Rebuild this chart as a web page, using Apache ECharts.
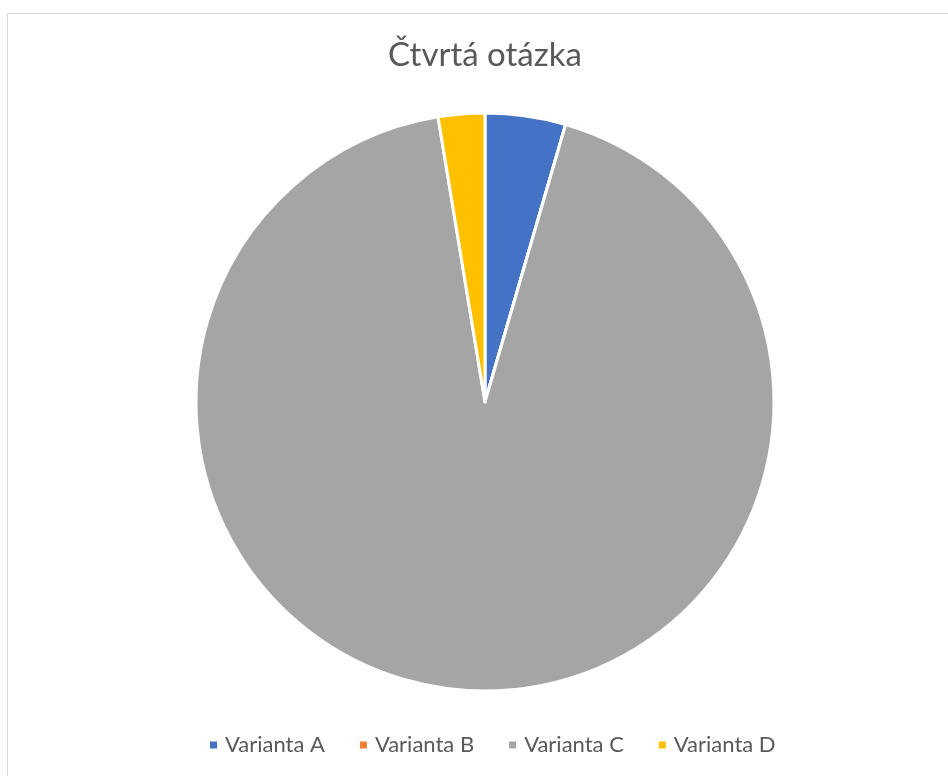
<!DOCTYPE html>
<html>
<head>
<meta charset="utf-8">
<script src="https://cdn.jsdelivr.net/npm/echarts@6/dist/echarts.min.js"></script>
<style>
html,body{margin:0;padding:0;background:#fff;}
#frame{position:absolute;left:7px;top:13px;width:960px;height:800px;border:1.5px solid #d9d9d9;box-sizing:border-box;}
#chart{position:absolute;left:0;top:0;width:948px;height:776px;}
</style>
</head>
<body>
<div id="frame"></div>
<div id="chart"></div>
<script>
const titleText = 'Čtvrtá otázka';
const categories = ['Varianta A', 'Varianta B', 'Varianta C', 'Varianta D'];
const values = [4.5, 0, 92.9, 2.6];
const colors = ['#4472c4', '#ed7d31', '#a5a5a5', '#ffc000'];

const chart = echarts.init(document.getElementById('chart'), null, {renderer: 'canvas'});
chart.setOption({
  backgroundColor: 'transparent',
  animation: false,
  title: {
    text: titleText,
    left: 388,
    top: 39,
    padding: 0,
    textStyle: {fontFamily: 'Lato', fontSize: 33, fontWeight: 'normal', color: '#595959'}
  },
  legend: {
    data: categories,
    bottom: 20,
    left: 208,
    padding: 0,
    itemWidth: 9,
    itemHeight: 9,
    itemGap: 33,
    icon: 'rect',
    textStyle: {fontFamily: 'Lato', fontSize: 22, color: '#595959', padding: [0, 0, 0, 2]}
  },
  series: [{
    type: 'pie',
    center: [485, 402],
    radius: 289,
    startAngle: 90,
    clockwise: true,
    label: {show: false},
    labelLine: {show: false},
    emphasis: {disabled: true},
    itemStyle: {borderColor: '#ffffff', borderWidth: 3},
    data: categories.map((c, i) => ({name: c, value: values[i], itemStyle: {color: colors[i]}}))
  }]
});
</script>
</body>
</html>
